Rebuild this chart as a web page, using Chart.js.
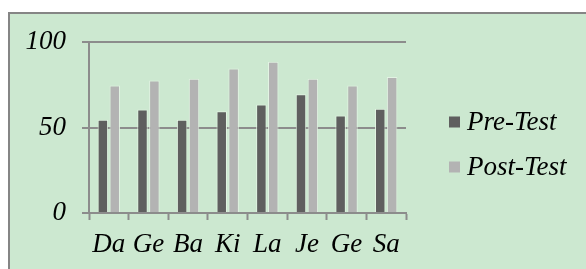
<!DOCTYPE html>
<html>
<head>
<meta charset="utf-8">
<script src="https://cdn.jsdelivr.net/npm/chart.js@4.4.0/dist/chart.umd.min.js"></script>
<style>
    body { margin: 0; background: #ffffff; }
    #frame {
        position: absolute; left: 8px; top: 12px;
        width: 620px; height: 300px;
        border: 2px solid #858585;
        background: #cce8d0;
    }
    #chart { position: absolute; left: 0; top: 0; }
</style>
</head>
<body>
<div id="frame"></div>
<canvas id="chart" width="586" height="269"></canvas>
<script>
// Chart data
const categories = ['Da', 'Ge', 'Ba', 'Ki', 'La', 'Je', 'Ge', 'Sa'];
const preTest = [54.5, 60.5, 54.5, 59.5, 63.5, 69.5, 57, 61];
const postTest = [74.5, 77.5, 78.5, 84.5, 88.5, 78.5, 74.5, 79.5];
const yTicks = [0, 50, 100];

const serifItalic = { family: '"Liberation Serif", "Times New Roman", serif', size: 27, style: 'italic' };
const gridColor = '#8c8c8c';

// Legend drawn to the right of the plot
const sideLegend = {
    id: 'sideLegend',
    afterDraw(chart) {
        const ctx = chart.ctx;
        const x = chart.chartArea.right + 43;
        const rows = [122, 167];
        ctx.save();
        ctx.font = 'italic 27px "Liberation Serif", "Times New Roman", serif';
        ctx.textBaseline = 'middle';
        ctx.textAlign = 'left';
        chart.data.datasets.forEach((ds, i) => {
            const y = rows[i];
            ctx.fillStyle = ds.backgroundColor;
            ctx.fillRect(x, y - 5.5, 11, 11);
            ctx.fillStyle = '#000000';
            ctx.fillText(ds.label, x + 18, y + 1);
        });
        ctx.restore();
    }
};

const ctx = document.getElementById('chart').getContext('2d');
const chart = new Chart(ctx, {
    type: 'bar',
    data: {
        labels: categories,
        datasets: [
            {
                label: 'Pre-Test',
                data: preTest,
                backgroundColor: '#5f5f5f',
                borderColor: 'rgba(228, 244, 228, 0.9)',
                borderWidth: 1,
                barPercentage: 0.88,
                categoryPercentage: 0.6
            },
            {
                label: 'Post-Test',
                data: postTest,
                backgroundColor: '#b3b3b3',
                borderColor: 'rgba(228, 244, 228, 0.9)',
                borderWidth: 1,
                barPercentage: 0.88,
                categoryPercentage: 0.6
            }
        ]
    },
    options: {
        responsive: false,
        animation: false,
        layout: {
            padding: { top: 42, right: 180, left: 0, bottom: 0 }
        },
        plugins: {
            legend: { display: false },
            tooltip: { enabled: false }
        },
        scales: {
            x: {
                grid: {
                    drawOnChartArea: false,
                    drawTicks: true,
                    tickLength: 7,
                    tickWidth: 2,
                    tickColor: gridColor
                },
                border: { display: true, color: gridColor, width: 2 },
                ticks: {
                    color: '#000000',
                    font: serifItalic,
                    padding: 9,
                    maxRotation: 0,
                    autoSkip: false
                },
                afterFit: function(scale) {
                    scale.height = 269 - 213;
                }
            },
            y: {
                min: 0,
                max: 100,
                afterBuildTicks: function(scale) {
                    scale.ticks = yTicks.map(v => ({ value: v }));
                },
                grid: {
                    color: gridColor,
                    lineWidth: 2,
                    tickLength: 7,
                    tickColor: gridColor
                },
                border: { display: true, color: gridColor, width: 2 },
                ticks: {
                    color: '#000000',
                    font: serifItalic,
                    padding: 16
                },
                afterFit: function(scale) {
                    scale.width = 89;
                }
            }
        }
    },
    plugins: [sideLegend]
});
</script>
</body>
</html>
